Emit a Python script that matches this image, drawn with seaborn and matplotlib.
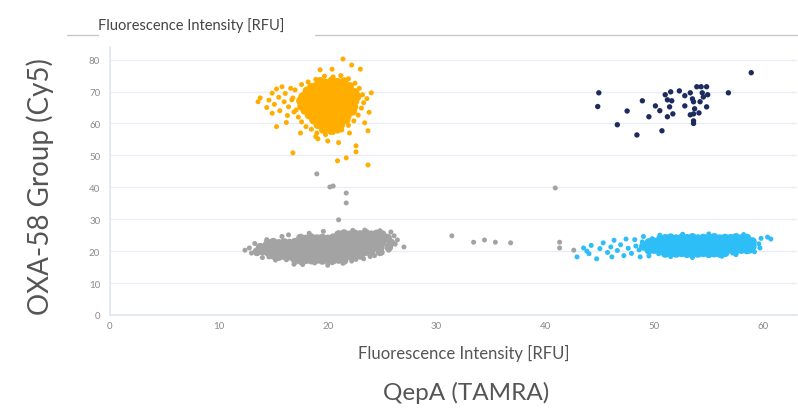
import pandas as pd
import matplotlib
matplotlib.use("Agg")
import matplotlib.pyplot as plt
import seaborn as sns
from matplotlib.lines import Line2D

sns.set_theme(style="white")
plt.rcParams['font.family'] = ['Lato', 'DejaVu Sans']

# ---- cluster data (TAMRA x, Cy5 y) ----
# dense cores (drawn with a larger dot so they read as solid blobs)
orange_core = [
    (19.3, 73.2), (19.8, 72.7), (20.4, 73.4), (20.9, 72.9), (21.5, 73.1),
    (18.5, 71.3), (19.0, 71.8), (19.5, 71.2), (20.0, 71.7), (20.5, 71.4), (21.0, 71.9), (21.5, 71.2), (22.0, 71.6),
    (18.1, 70.2), (18.6, 69.7), (19.1, 70.3), (19.6, 69.8), (20.1, 70.1), (20.6, 69.6), (21.1, 70.3), (21.6, 69.9), (22.1, 70.2), (22.5, 69.7),
    (17.7, 68.4), (18.2, 68.9), (18.7, 68.3), (19.2, 68.7), (19.7, 68.2), (20.2, 68.8), (20.7, 68.4), (21.2, 68.6), (21.7, 68.2), (22.2, 68.8), (22.7, 68.4),
    (17.5, 67.1), (18.0, 66.8), (18.5, 67.3), (19.0, 66.9), (19.5, 67.2), (20.0, 66.7), (20.5, 67.1), (21.0, 66.8), (21.5, 67.3), (22.0, 66.9), (22.5, 67.0),
    (17.6, 65.4), (18.1, 65.8), (18.6, 65.3), (19.1, 65.7), (19.6, 65.2), (20.1, 65.6), (20.6, 65.4), (21.1, 65.8), (21.6, 65.3), (22.1, 65.6), (22.4, 65.2),
    (17.9, 64.1), (18.4, 63.8), (18.9, 64.2), (19.4, 63.9), (19.9, 64.3), (20.4, 63.8), (20.9, 64.1), (21.4, 63.9), (21.9, 64.2), (22.3, 63.8),
    (18.3, 62.6), (18.8, 62.3), (19.3, 62.7), (19.8, 62.4), (20.3, 62.6), (20.8, 62.2), (21.3, 62.7), (21.8, 62.4),
    (18.7, 61.1), (19.2, 60.8), (19.7, 61.2), (20.2, 60.9), (20.7, 61.1), (21.2, 60.8), (21.7, 61.2),
    (19.1, 59.6), (19.6, 59.3), (20.1, 59.7), (20.6, 59.4), (21.2, 59.6),
    (19.6, 58.1), (20.3, 57.8), (20.9, 58.2),
]
orange_spread = [
    # fringe
    (17.0, 70.5), (16.8, 68.0), (17.1, 64.2), (17.3, 62.0), (17.6, 60.5), (18.0, 59.0), (18.5, 58.2), (19.0, 57.0),
    (19.8, 56.5), (20.5, 57.2), (21.3, 58.0), (21.9, 59.4), (22.4, 60.8), (22.8, 62.6), (23.1, 64.8), (23.3, 66.5),
    (23.2, 69.0), (22.9, 71.0), (22.5, 72.6), (21.9, 74.0), (21.2, 75.0), (20.5, 74.6), (19.7, 74.8), (18.9, 73.8),
    (18.2, 73.0), (17.6, 72.2), (23.6, 67.8), (23.8, 63.5), (22.0, 57.0), (23.4, 60.2), (18.9, 55.9),
    # left tail
    (13.6, 66.8), (13.8, 68.0), (14.4, 65.0), (14.6, 67.3), (14.9, 69.5), (15.1, 66.0), (15.3, 70.8), (15.5, 68.2),
    (15.6, 64.0), (15.8, 71.5), (16.0, 66.8), (16.1, 69.4), (16.3, 62.5), (16.4, 65.2), (16.6, 71.0), (16.7, 67.4),
    (15.3, 59.0), (16.9, 63.6), (14.9, 63.2), (16.2, 60.3),
    # outliers
    (21.4, 80.2), (19.3, 76.8), (20.4, 77.0), (23.0, 77.0), (22.2, 78.3), (23.7, 57.7), (16.8, 50.8), (20.9, 48.3),
    (21.7, 49.2), (22.6, 51.1), (23.7, 47.0), (17.5, 57.0), (19.1, 55.2), (20.0, 54.5), (21.0, 54.0), (24.0, 69.6), (22.6, 53.0),
]

gray_core = [
    (21.0, 25.2), (21.5, 25.5), (22.0, 25.1), (22.5, 25.4), (23.0, 25.2), (23.5, 25.6), (24.0, 25.1), (24.5, 25.4), (25.0, 25.2),
    (17.5, 24.1), (18.0, 23.8), (18.5, 24.2), (19.0, 23.9), (19.5, 24.1), (20.0, 23.8), (20.5, 24.2), (21.0, 23.9),
    (21.5, 24.1), (22.0, 23.8), (22.5, 24.2), (23.0, 23.9), (23.5, 24.1), (24.0, 23.8), (24.5, 24.2), (25.0, 23.9), (25.5, 24.1),
    (14.5, 22.5), (15.0, 22.8), (15.5, 22.4), (16.0, 22.7), (16.5, 22.5), (17.0, 22.8), (17.5, 22.4), (18.0, 22.7),
    (18.5, 22.5), (19.0, 22.8), (19.5, 22.4), (20.0, 22.7), (20.5, 22.5), (21.0, 22.8), (21.5, 22.4), (22.0, 22.7),
    (22.5, 22.5), (23.0, 22.8), (23.5, 22.4), (24.0, 22.7), (24.5, 22.5), (25.0, 22.8), (25.8, 22.6),
    (13.8, 21.2), (14.3, 21.4), (14.8, 21.0), (15.3, 21.3), (15.8, 21.1), (16.3, 21.4), (16.8, 21.0), (17.3, 21.3),
    (17.8, 21.1), (18.3, 21.4), (18.8, 21.0), (19.3, 21.3), (19.8, 21.1), (20.3, 21.4), (20.8, 21.0), (21.3, 21.3),
    (21.8, 21.1), (22.3, 21.4), (22.8, 21.0), (23.3, 21.3), (23.8, 21.1), (24.3, 21.4), (24.8, 21.0), (25.6, 21.2),
    (13.5, 19.8), (14.0, 20.1), (14.5, 19.7), (15.0, 20.0), (15.5, 19.8), (16.0, 20.1), (16.5, 19.7), (17.0, 20.0),
    (17.5, 19.8), (18.0, 20.1), (18.5, 19.7), (19.0, 20.0), (19.5, 19.8), (20.0, 20.1), (20.5, 19.7), (21.0, 20.0),
    (21.5, 19.8), (22.0, 20.1), (22.5, 19.7), (23.0, 20.0), (23.5, 19.8), (24.0, 20.1), (24.8, 19.8),
    (15.0, 18.7), (15.5, 18.3), (16.0, 18.6), (16.5, 18.4), (17.0, 18.7), (17.5, 18.3), (18.0, 18.6),
    (18.5, 18.4), (19.0, 18.7), (19.5, 18.3), (20.0, 18.6), (20.5, 18.4), (21.0, 18.7), (21.5, 18.3), (22.0, 18.6),
    (22.5, 18.4), (23.0, 18.7),
    (17.0, 17.4), (17.5, 17.1), (18.0, 17.3), (18.5, 17.2), (19.0, 17.4), (19.5, 17.1), (20.0, 17.3),
    (20.5, 17.2), (21.0, 17.4), (21.5, 17.1),
]
gray_spread = [
    # fringe
    (12.4, 20.3), (12.8, 21.0), (13.0, 19.4), (13.3, 22.4), (14.0, 18.0), (14.4, 23.6), (15.2, 17.2), (15.8, 24.6),
    (16.4, 25.1), (17.0, 16.4), (18.3, 25.6), (18.8, 16.3), (19.6, 26.2), (20.4, 16.4), (21.4, 16.2), (22.2, 16.9),
    (23.3, 17.6), (24.3, 18.6), (25.0, 19.5), (25.6, 20.3), (26.1, 24.8), (26.4, 23.5), (27.0, 21.3), (26.2, 22.2),
    (25.8, 26.0), (24.8, 26.4), (23.4, 26.6), (22.3, 26.5), (16.9, 15.9), (17.7, 15.8), (20.0, 15.6), (14.6, 18.2),
    (16.2, 17.3), (22.6, 17.4), (23.9, 18.3),
    # outliers
    (20.2, 40.1), (20.5, 40.4), (21.7, 38.2), (21.7, 35.1), (21.0, 29.8), (19.0, 44.2), (31.4, 24.8), (33.4, 22.8),
    (34.4, 23.5), (35.4, 22.8), (36.8, 22.6), (40.9, 39.8), (41.3, 22.8), (41.3, 21.0), (42.6, 20.3),
]

blue_core = [
    (51.0, 24.0), (51.5, 24.2), (52.0, 23.9), (52.5, 24.1), (53.0, 24.0), (53.5, 24.3), (54.0, 23.9), (54.5, 24.1),
    (55.0, 24.0), (55.5, 24.3), (56.0, 23.9), (56.5, 24.1), (57.0, 24.0), (57.5, 24.3), (58.0, 23.9), (58.5, 24.1),
    (49.5, 22.7), (50.0, 22.9), (50.5, 22.8), (51.0, 23.0), (51.5, 22.7), (52.0, 22.9),
    (52.5, 22.8), (53.0, 23.0), (53.5, 22.7), (54.0, 22.9), (54.5, 22.8), (55.0, 23.0), (55.5, 22.7), (56.0, 22.9),
    (56.5, 22.8), (57.0, 23.0), (57.5, 22.7), (58.0, 22.9), (58.5, 22.8), (59.0, 23.0),
    (49.0, 21.5), (49.5, 21.7), (50.0, 21.6), (50.5, 21.8), (51.0, 21.5), (51.5, 21.7),
    (52.0, 21.6), (52.5, 21.8), (53.0, 21.5), (53.5, 21.7), (54.0, 21.6), (54.5, 21.8), (55.0, 21.5), (55.5, 21.7),
    (56.0, 21.6), (56.5, 21.8), (57.0, 21.5), (57.5, 21.7), (58.0, 21.6), (58.5, 21.8), (59.0, 21.5),
    (49.5, 20.3), (50.0, 20.5), (50.5, 20.4), (51.0, 20.6), (51.5, 20.3), (52.0, 20.5),
    (52.5, 20.4), (53.0, 20.6), (53.5, 20.3), (54.0, 20.5), (54.5, 20.4), (55.0, 20.6), (55.5, 20.3), (56.0, 20.5),
    (56.5, 20.4), (57.0, 20.6), (57.5, 20.3), (58.0, 20.5), (58.5, 20.4),
    (51.0, 19.3), (51.5, 19.5), (52.0, 19.3), (52.5, 19.5), (53.0, 19.2), (53.5, 19.4),
    (54.0, 19.3), (54.5, 19.5), (55.0, 19.2), (55.5, 19.4), (56.0, 19.3), (56.5, 19.5),
]
blue_spread = [
    (42.9, 18.2), (43.5, 21.0), (43.8, 20.0), (44.2, 21.8), (44.7, 17.6), (45.0, 20.8), (45.3, 22.6), (45.7, 19.6),
    (46.0, 21.3), (46.3, 23.4), (46.6, 20.2), (46.9, 22.0), (47.2, 18.6), (47.4, 23.8), (47.6, 20.9), (47.9, 19.3),
    (48.2, 23.6), (48.7, 18.2), (49.0, 24.6), (49.5, 18.5), (50.5, 25.0), (51.5, 18.3), (52.6, 25.3), (53.5, 18.0),
    (55.0, 25.4), (56.2, 18.4), (57.5, 18.9), (58.2, 25.2), (59.2, 19.8), (59.8, 24.0), (60.4, 24.4), (60.7, 23.8),
    (59.6, 22.3), (58.8, 20.0), (44.0, 19.2), (46.1, 18.2), (48.3, 21.6), (48.6, 20.4), (48.9, 22.9), (50.4, 19.2),
    (57.2, 19.4), (59.7, 21.0), (49.8, 23.9), (50.4, 24.1),
]

navy_pts = [
    (58.9, 75.9), (44.9, 69.6), (44.8, 65.3), (46.6, 59.6), (48.4, 56.4), (47.5, 63.9), (48.9, 67.1), (49.5, 62.1),
    (50.1, 65.5), (50.5, 64.0), (50.7, 57.7), (51.0, 69.0), (51.5, 69.9), (51.2, 67.4), (51.6, 67.1), (51.4, 65.2),
    (51.2, 62.1), (51.7, 63.0), (52.3, 70.2), (52.8, 68.7), (52.8, 65.5), (53.3, 69.6), (53.5, 67.7), (53.6, 66.8),
    (53.7, 64.6), (53.6, 63.0), (53.3, 62.7), (53.6, 60.8), (53.6, 60.0), (53.9, 71.5), (54.3, 71.5), (54.8, 71.5),
    (54.4, 69.6), (54.5, 68.3), (54.9, 69.0), (54.2, 66.8), (54.8, 65.2), (54.1, 63.3), (56.8, 69.6),
]

palette = {"gray": "#a3a3a3", "orange": "#ffae00", "blue": "#2dbdf7", "navy": "#1d2b5e"}

frames = []
for name, part, pts in [("gray", "core", gray_core), ("gray", "spread", gray_spread),
                        ("orange", "core", orange_core), ("orange", "spread", orange_spread),
                        ("blue", "core", blue_core), ("blue", "spread", blue_spread),
                        ("navy", "spread", navy_pts)]:
    df = pd.DataFrame(pts, columns=["TAMRA", "Cy5"])
    df["group"] = name
    df["part"] = part
    frames.append(df)
data = pd.concat(frames, ignore_index=True)

fig = plt.figure(figsize=(7.98, 4.10), dpi=100)
ax = fig.add_axes([0.1378, 0.2293, 0.8609, 0.654])

cores = data[data.part == "core"]
spread = data[(data.part == "spread") & (data.group != "navy")]
navy = data[data.group == "navy"]
sns.scatterplot(data=spread, x="TAMRA", y="Cy5", hue="group", palette=palette,
                s=13, linewidth=0, legend=False, ax=ax)
sns.scatterplot(data=cores, x="TAMRA", y="Cy5", hue="group", palette=palette,
                s=40, linewidth=0, legend=False, ax=ax)
sns.scatterplot(data=navy, x="TAMRA", y="Cy5", hue="group", palette=palette,
                s=15, linewidth=0, legend=False, ax=ax)

ax.set_xlim(0, 63.1)
ax.set_ylim(0, 84)
ax.set_xticks(range(0, 70, 10))
ax.set_yticks(range(0, 90, 10))
ax.grid(axis="y", color="#e9ecf5", linewidth=1)
ax.set_axisbelow(True)
for side in ["top", "right"]:
    ax.spines[side].set_visible(False)
ax.spines["left"].set_color("#e1e6f2")
ax.spines["bottom"].set_color("#e1e6f2")
ax.tick_params(axis="both", labelsize=7, colors="#8a8a8a", length=3, width=0.8, pad=4)
ax.tick_params(axis="x", length=0)
ax.tick_params(axis="y", color="#e1e6f2")
ax.set_xlabel("")
ax.set_ylabel("")

text_color = "#555555"
fig.text(0.5815, 0.139, "Fluorescence Intensity [RFU]", ha="center", va="center", fontsize=12, color=text_color)
fig.text(0.584, 0.041, "QepA (TAMRA)", ha="center", va="center", fontsize=17.5, color=text_color)
fig.text(0.05, 0.544, "OXA-58 Group (Cy5)", ha="center", va="center", rotation=90, fontsize=20, color=text_color)

# header caption with split rule
fig.text(0.2395, 0.937, "Fluorescence Intensity [RFU]", ha="center", va="center", fontsize=10.5, color="#444444")
fig.add_artist(Line2D([67 / 798, 98 / 798], [0.912, 0.912], color="#c8c8c8", linewidth=1))
fig.add_artist(Line2D([315 / 798, 1.0], [0.912, 0.912], color="#c8c8c8", linewidth=1))

fig.savefig("out.png", dpi=100)
